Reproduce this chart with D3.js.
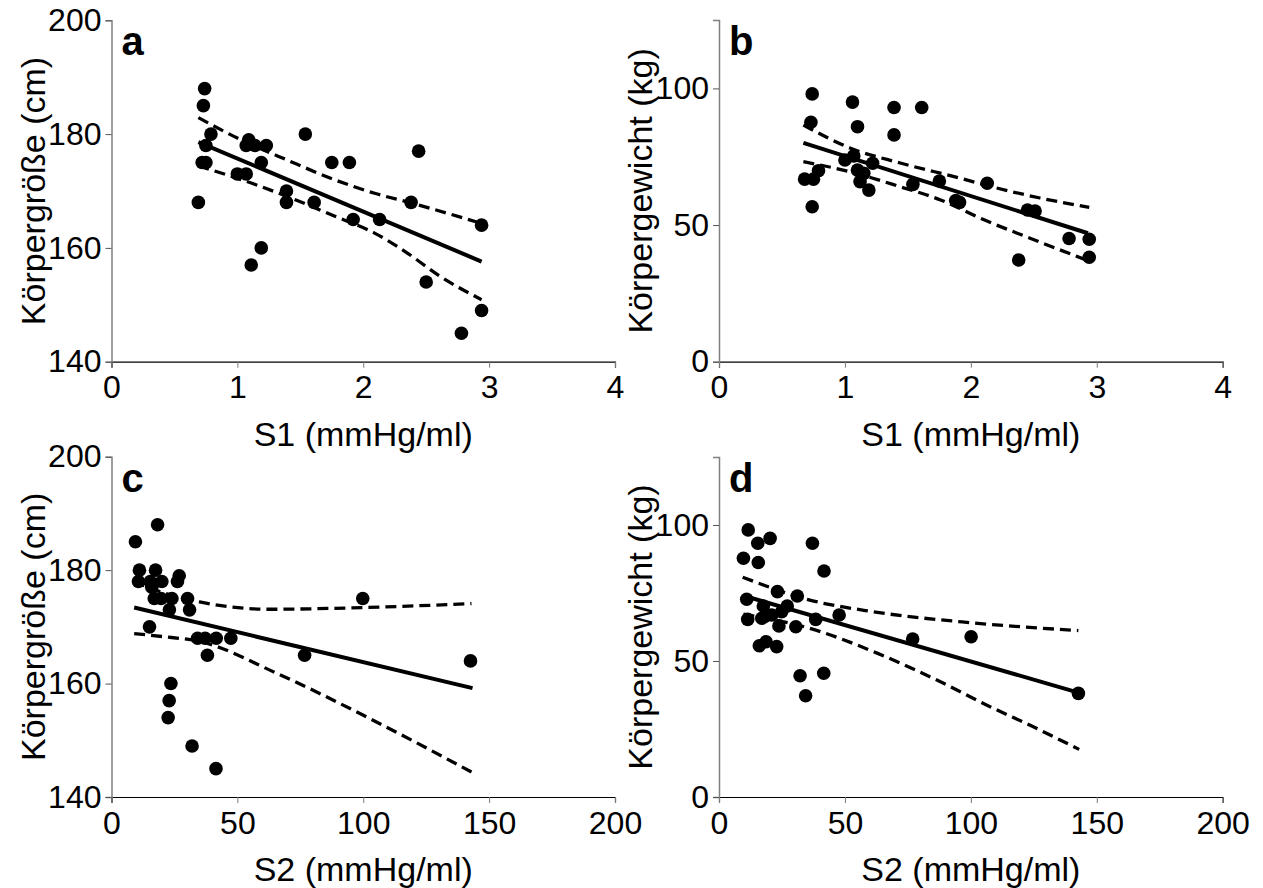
<!DOCTYPE html>
<html>
<head>
<meta charset="utf-8">
<script src="https://cdn.jsdelivr.net/npm/d3@7"></script>
<style>
  body { margin: 0; background: #fff; }
  svg { font-family: "Liberation Sans", Arial, sans-serif; }
  .tick text { font-size: 32px; fill: #000; }
</style>
</head>
<body>
<div id="content-holder"></div>
<script>
// panel a: S1 vs Körpergröße
var aS1 = [0.74, 0.73, 0.79, 0.75, 0.75, 0.72, 0.69, 1.09, 1.07, 1.14, 1.23, 1.19, 1.00, 1.07, 1.39,
           1.39, 1.61, 1.54, 1.75, 1.89, 1.92, 1.19, 1.11, 2.44, 2.38, 2.13, 2.94, 2.50, 2.94, 2.78];
var aHeight = [188, 185, 180, 178, 175, 175, 168, 179, 178, 178, 178, 175, 173, 173, 170,
               168, 168, 180, 175, 175, 165, 160, 157, 177, 168, 165, 164, 154, 149, 145];
var aFit = [[0.69, 178.6], [2.94, 157.6]];
var aUpper = [[0.69, 182.9], [1.00, 179.3], [1.40, 175.4], [1.77, 172.0], [2.09, 169.6], [2.38, 167.9], [2.94, 164.3]];
var aLower = [[0.69, 174.4], [1.11, 171.4], [1.40, 169.0], [1.77, 165.6], [2.09, 162.6], [2.35, 159.1], [2.61, 155.0], [2.94, 150.9]];

// panel b: S1 vs Körpergewicht
var bS1 = [0.74, 1.06, 1.39, 1.61, 0.73, 1.10, 1.39, 1.00, 1.07, 1.22, 1.10, 1.15, 0.79, 0.68, 0.75,
           1.12, 1.19, 1.54, 1.75, 1.88, 0.74, 2.13, 1.91, 2.45, 2.51, 2.78, 2.94, 2.94, 2.38];
var bWeight = [98, 95, 93, 93, 87.6, 86, 83, 73.8, 75.3, 72.6, 70.1, 68.9, 69.9, 66.8, 66.8,
               65.9, 62.8, 64.9, 66.1, 59, 56.7, 65.3, 58.3, 55.5, 55.1, 45.1, 44.8, 38.2, 37.2];
var bFit = [[0.67, 80.1], [2.93, 47.0]];
var bUpper = [[0.67, 86.6], [1.04, 78.2], [1.44, 72.7], [1.92, 67.1], [2.15, 64.2], [2.55, 59.9], [2.94, 56.5]];
var bLower = [[0.67, 73.2], [1.04, 69.5], [1.44, 64.0], [1.76, 59.2], [2.10, 52.0], [2.47, 45.2], [2.94, 36.8]];

// panel c: S2 vs Körpergröße
var cS2 = [18.3, 9.5, 11.1, 17.5, 10.7, 15.4, 20.0, 26.9, 26.2, 16.0, 17.0, 19.7, 24.0, 30.2, 23.0,
           31.0, 15.1, 34.2, 37.2, 41.6, 47.4, 38.1, 23.6, 22.9, 22.5, 32.0, 41.5, 99.8, 76.7, 142.6];
var cHeight = [188, 185, 180, 180, 178, 178, 178, 179, 178, 177, 175, 175, 175, 175, 173,
               173, 170, 168, 168, 168, 168, 165, 160, 157, 154, 149, 145, 175, 165, 164];
var cFit = [[9.0, 173.4], [143.4, 159.2]];
var cUpper = [[9, 178.0], [20, 176.1], [35, 174.4], [63, 173.1], [100, 173.4], [143, 174.1]];
var cLower = [[9, 168.8], [20, 168.3], [35.2, 167.4], [65.7, 161.8], [101.4, 154.1], [143, 144.4]];

// panel d: S2 vs Körpergewicht
var dS2 = [11.6, 15.4, 20.3, 37.1, 9.7, 15.6, 41.7, 23.2, 31.1, 11.0, 17.6, 27.1, 24.9, 18.3, 20.9,
           11.4, 17.0, 23.8, 30.5, 38.4, 47.7, 16.0, 18.7, 22.9, 32.2, 41.6, 34.4, 76.9, 100.1, 142.7];
var dWeight = [98.2, 93.3, 95.1, 93.3, 87.8, 86.2, 83.1, 75.5, 73.9, 72.7, 70.2, 70.2, 68.1, 66.5, 66.9,
               65.3, 65.7, 62.9, 62.6, 65.3, 66.9, 55.6, 57.1, 55.3, 44.6, 45.5, 37.2, 58.1, 58.9, 38.1];
var dFit = [[9.7, 74.0], [142.7, 38.4]];
var dUpper = [[9.4, 80.8], [36.1, 72.4], [61.3, 68.1], [99.7, 64.1], [142.7, 61.2]];
var dLower = [[9.7, 67.2], [36.1, 62.0], [63, 52.8], [86.5, 43.0], [107.6, 33.2], [124.8, 25.8], [143, 17.5]];

var s1Ticks = [0, 1, 2, 3, 4];
var s2Ticks = [0, 50, 100, 150, 200];
var heightTicks = [140, 160, 180, 200];
var weightTicks = [0, 50, 100];

var svg = d3.select('#content-holder')
  .append("svg")
  .attr("width", 1263)
  .attr("height", 888);

var drawPanel = function(p){
  var x = d3.scaleLinear().domain(p.xDomain).range([p.left, p.right]);
  var y = d3.scaleLinear().domain(p.yDomain).range([p.bottom, p.top]);
  var g = svg.append("g");
  var fmt = d3.format("d");

  // axes
  var xa = g.append("g")
    .attr("transform", "translate(0," + p.bottom + ")")
    .call(d3.axisBottom(x).tickValues(p.xTicks).tickFormat(fmt).tickSize(6).tickPadding(8));
  xa.select(".domain").attr("stroke", "#000").attr("stroke-width", 1.2);
  xa.selectAll(".tick line").attr("stroke", "#777");

  var ya = g.append("g")
    .attr("transform", "translate(" + p.left + ",0)")
    .call(d3.axisLeft(y).tickValues(p.yTicks).tickFormat(fmt).tickSize(6).tickPadding(4));
  ya.select(".domain").attr("stroke", "#808080").attr("stroke-width", 1.5);
  ya.selectAll(".tick line").attr("stroke", "#555");

  g.append("text")
    .attr("x", (p.left + p.right) / 2)
    .attr("y", p.bottom + 84)
    .attr("text-anchor", "middle")
    .style("font-size", "34px")
    .text(p.xLabel);

  g.append("text")
    .attr("transform", "translate(" + (p.left - 67) + "," + ((p.top + p.bottom) / 2) + ") rotate(-90)")
    .attr("text-anchor", "middle")
    .style("font-size", "34px")
    .text(p.yLabel);

  g.append("text")
    .attr("x", p.left + 10)
    .attr("y", p.top + 35)
    .style("font-size", "40px")
    .style("font-weight", "bold")
    .text(p.letter);

  var line = d3.line().x(function(d){ return x(d[0]); }).y(function(d){ return y(d[1]); });
  var curve = d3.line().curve(d3.curveMonotoneX)
    .x(function(d){ return x(d[0]); }).y(function(d){ return y(d[1]); });

  [p.upper, p.lower].forEach(function(band){
    g.append("path")
      .attr("d", curve(band))
      .attr("fill", "none")
      .attr("stroke", "#000")
      .attr("stroke-width", 3.3)
      .attr("stroke-dasharray", "11,6");
  });

  g.append("path")
    .attr("d", line(p.fit))
    .attr("fill", "none")
    .attr("stroke", "#000")
    .attr("stroke-width", 4);

  g.selectAll("circle.pt")
    .data(p.xs)
    .enter().append("circle")
    .attr("class", "pt")
    .attr("cx", function(d){ return x(d); })
    .attr("cy", function(d, i){ return y(p.ys[i]); })
    .attr("r", 6.8)
    .attr("fill", "#000");
};

drawPanel({letter: "a", left: 111.5, right: 615, top: 20.3, bottom: 361.7,
  xDomain: [0, 4], yDomain: [140, 200], xTicks: s1Ticks, yTicks: heightTicks,
  xLabel: "S1 (mmHg/ml)", yLabel: "Körpergröße (cm)",
  xs: aS1, ys: aHeight, fit: aFit, upper: aUpper, lower: aLower});

drawPanel({letter: "b", left: 719, right: 1222.7, top: 20.1, bottom: 361.7,
  xDomain: [0, 4], yDomain: [0, 125], xTicks: s1Ticks, yTicks: weightTicks,
  xLabel: "S1 (mmHg/ml)", yLabel: "Körpergewicht (kg)",
  xs: bS1, ys: bWeight, fit: bFit, upper: bUpper, lower: bLower});

drawPanel({letter: "c", left: 111.5, right: 615, top: 456.7, bottom: 797,
  xDomain: [0, 200], yDomain: [140, 200], xTicks: s2Ticks, yTicks: heightTicks,
  xLabel: "S2 (mmHg/ml)", yLabel: "Körpergröße (cm)",
  xs: cS2, ys: cHeight, fit: cFit, upper: cUpper, lower: cLower});

drawPanel({letter: "d", left: 719, right: 1222.7, top: 457, bottom: 797,
  xDomain: [0, 200], yDomain: [0, 125], xTicks: s2Ticks, yTicks: weightTicks,
  xLabel: "S2 (mmHg/ml)", yLabel: "Körpergewicht (kg)",
  xs: dS2, ys: dWeight, fit: dFit, upper: dUpper, lower: dLower});
</script>
</body>
</html>
